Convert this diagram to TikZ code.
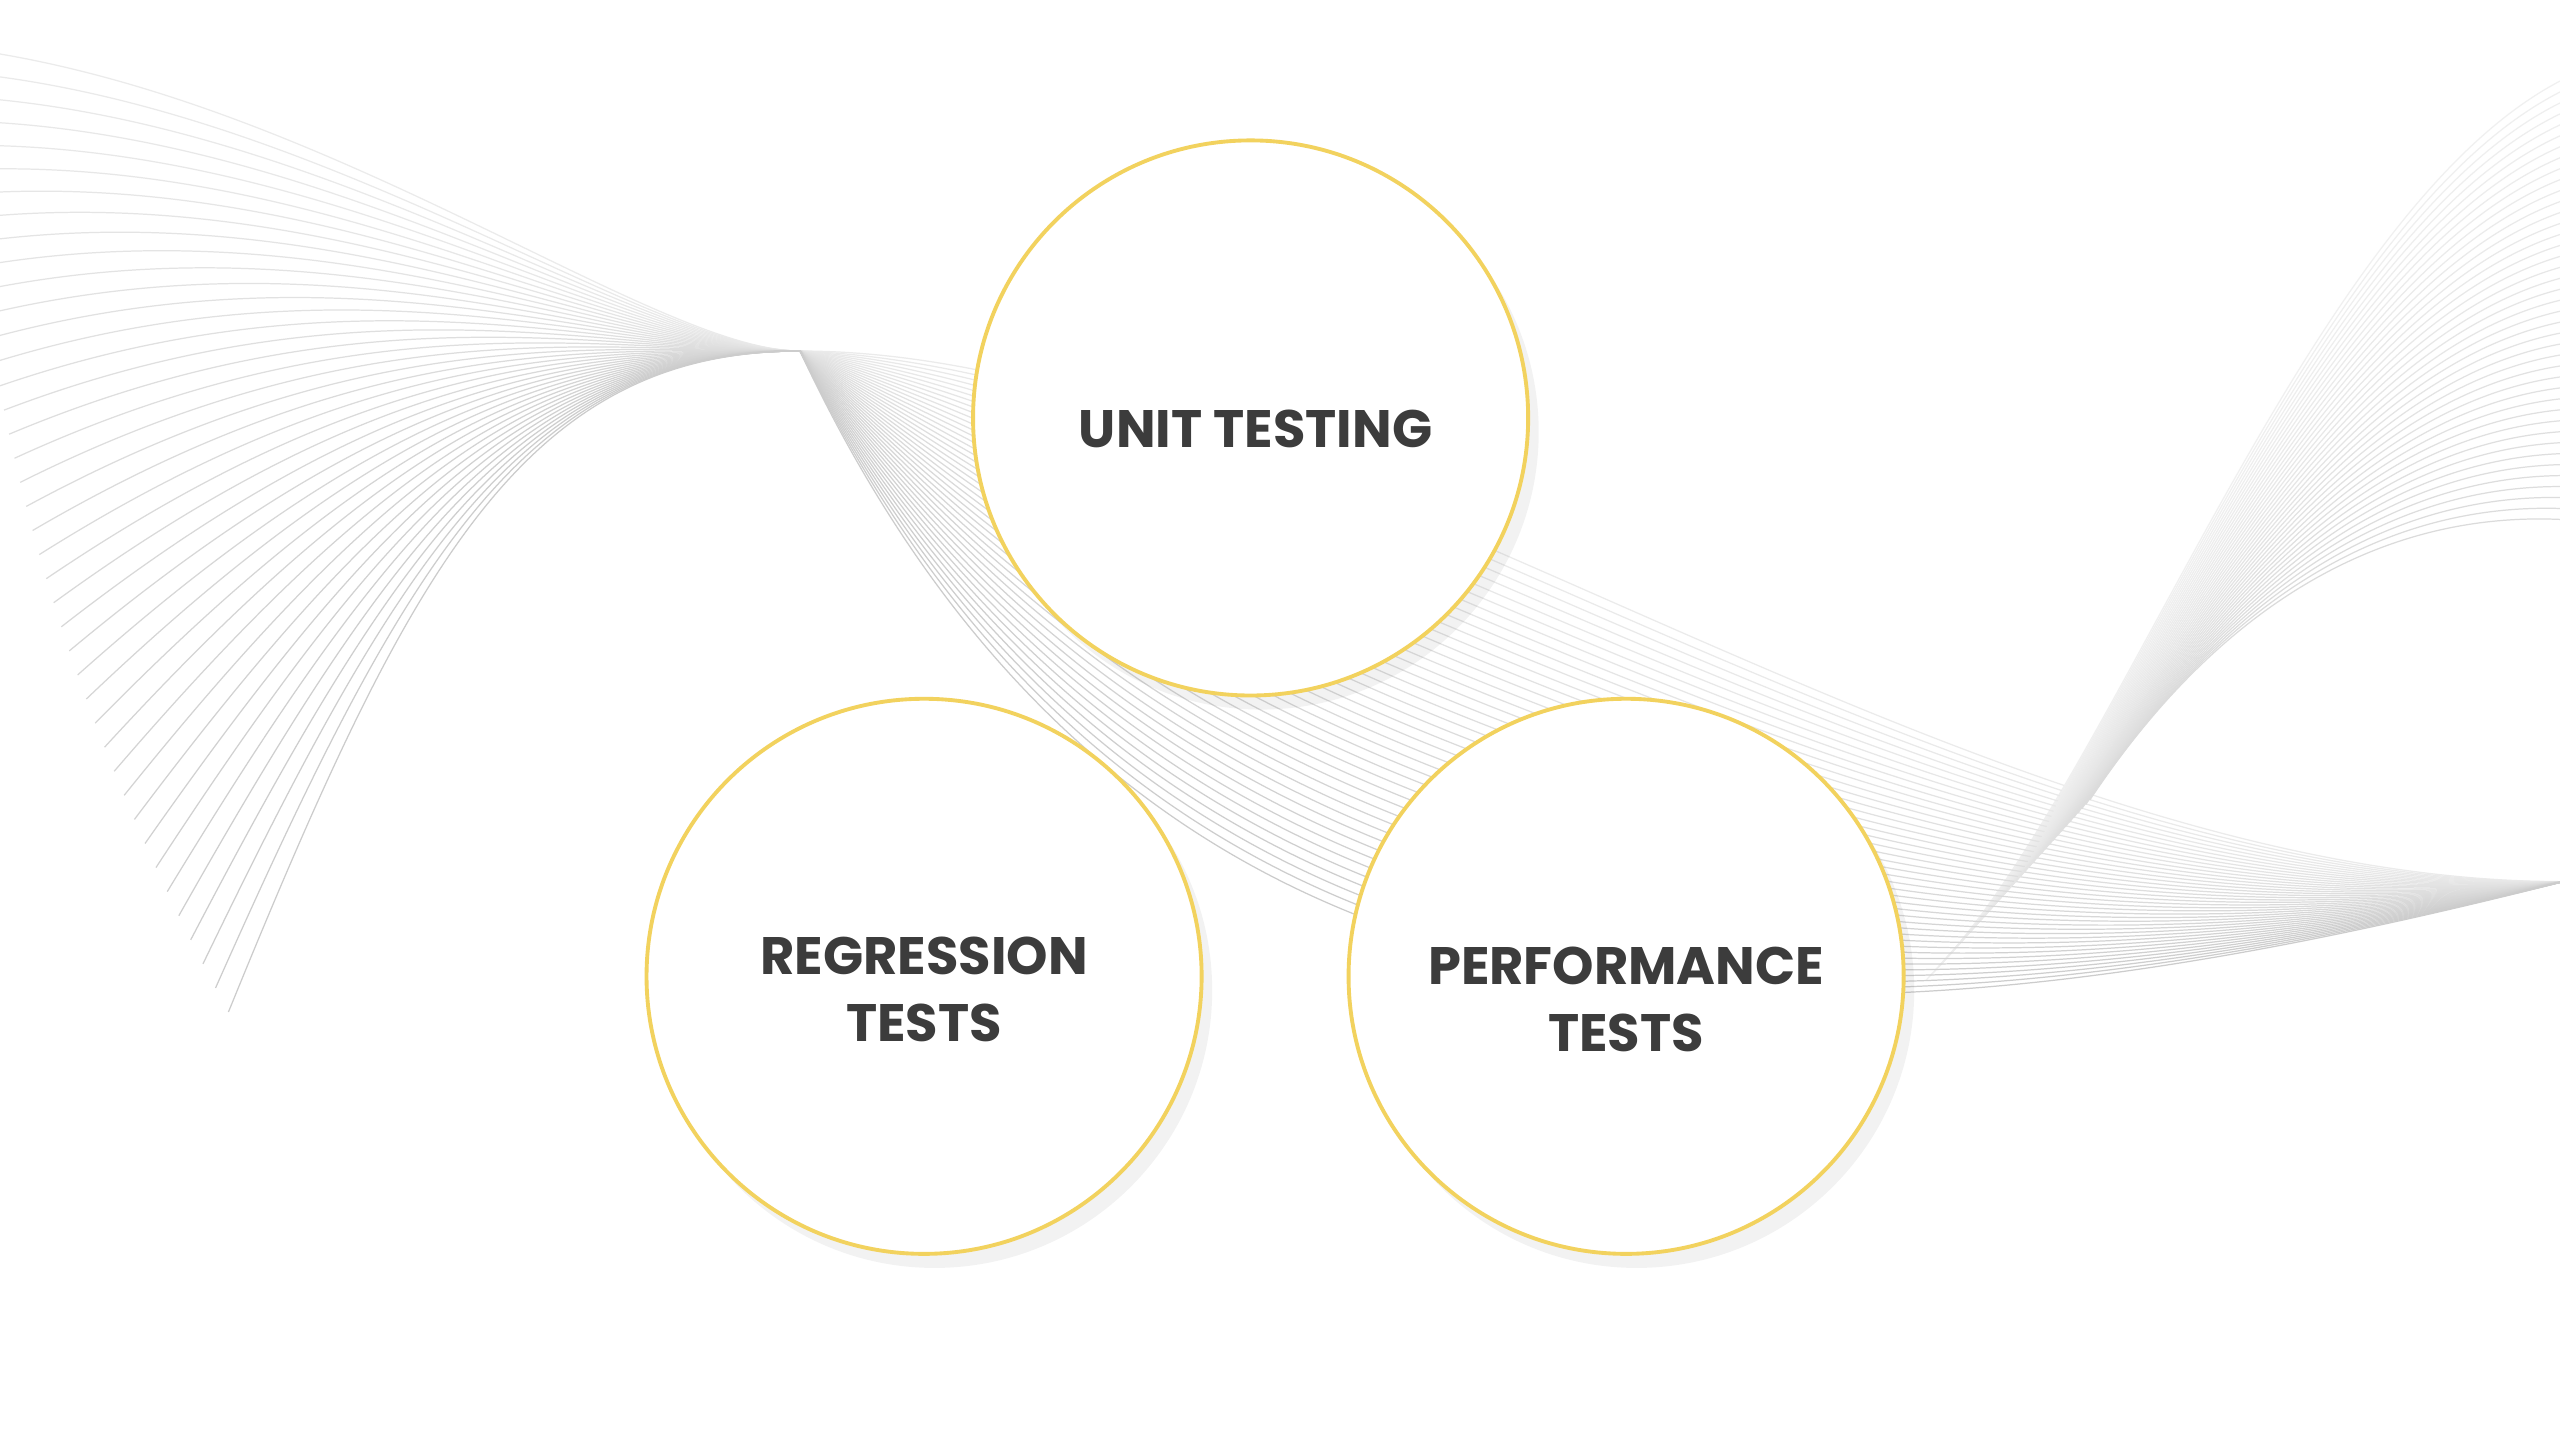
\documentclass[tikz,border=0pt]{standalone}
\usepackage{fontspec}
\setmainfont{Poppins}
\usetikzlibrary{shadows}
\definecolor{ring}{HTML}{F2D25E}
\definecolor{txt}{HTML}{3C3C3C}
\tikzset{
  wave/.style={line width=0.35pt},
  bubble/.style={circle, minimum size=340\un, fill=white, draw=ring, line width=1.1pt,
    drop shadow={shadow xshift=3pt, shadow yshift=-4pt, opacity=0.05, fill=black}},
  btext/.style={align=center, text=txt, font=\fontsize{15}{19}\selectfont\bfseries}
}
\newlength{\un}
\setlength{\un}{0.016327cm}
\begin{document}
\begin{tikzpicture}[x=\un, y=-\un]
\useasboundingbox (0,0) rectangle (1568,882);
\fill[white] (0,0) rectangle (1568,882);
\begin{scope}
\clip (0,0) rectangle (1568,882);
\foreach \t in {0,0.025,...,1.001}{
  \draw[wave, draw=black!\fpeval{8+12*\t}]
    (-20+160*\t*\t, 30+590*\t) .. controls (200+50*\t, 60+290*\t) and (400-80*\t, 215) .. (490,215)
    .. controls (800-100*\t, 215+450*\t) and (1200-100*\t, 540+120*\t) .. (1570,540);
  \draw[wave, draw=black!\fpeval{6+8*\t}]
    (1180+100*\t, 600-110*\t) .. controls (1300+20*\t, 480-50*\t) and (1420, 100+200*\t) .. (1590, 40+280*\t);
}
\end{scope}
\node[bubble] (unit) at (766,256) {};
\node[bubble] (reg) at (566,598) {};
\node[bubble] (perf) at (996,598) {};
\node[btext] (unitT) at (769,263) {UNIT TESTING};
\node[btext] (regT) at (566,606) {REGRESSION\\TESTS};
\node[btext] (perfT) at (996,612) {PERFORMANCE\\TESTS};
\end{tikzpicture}
\end{document}
